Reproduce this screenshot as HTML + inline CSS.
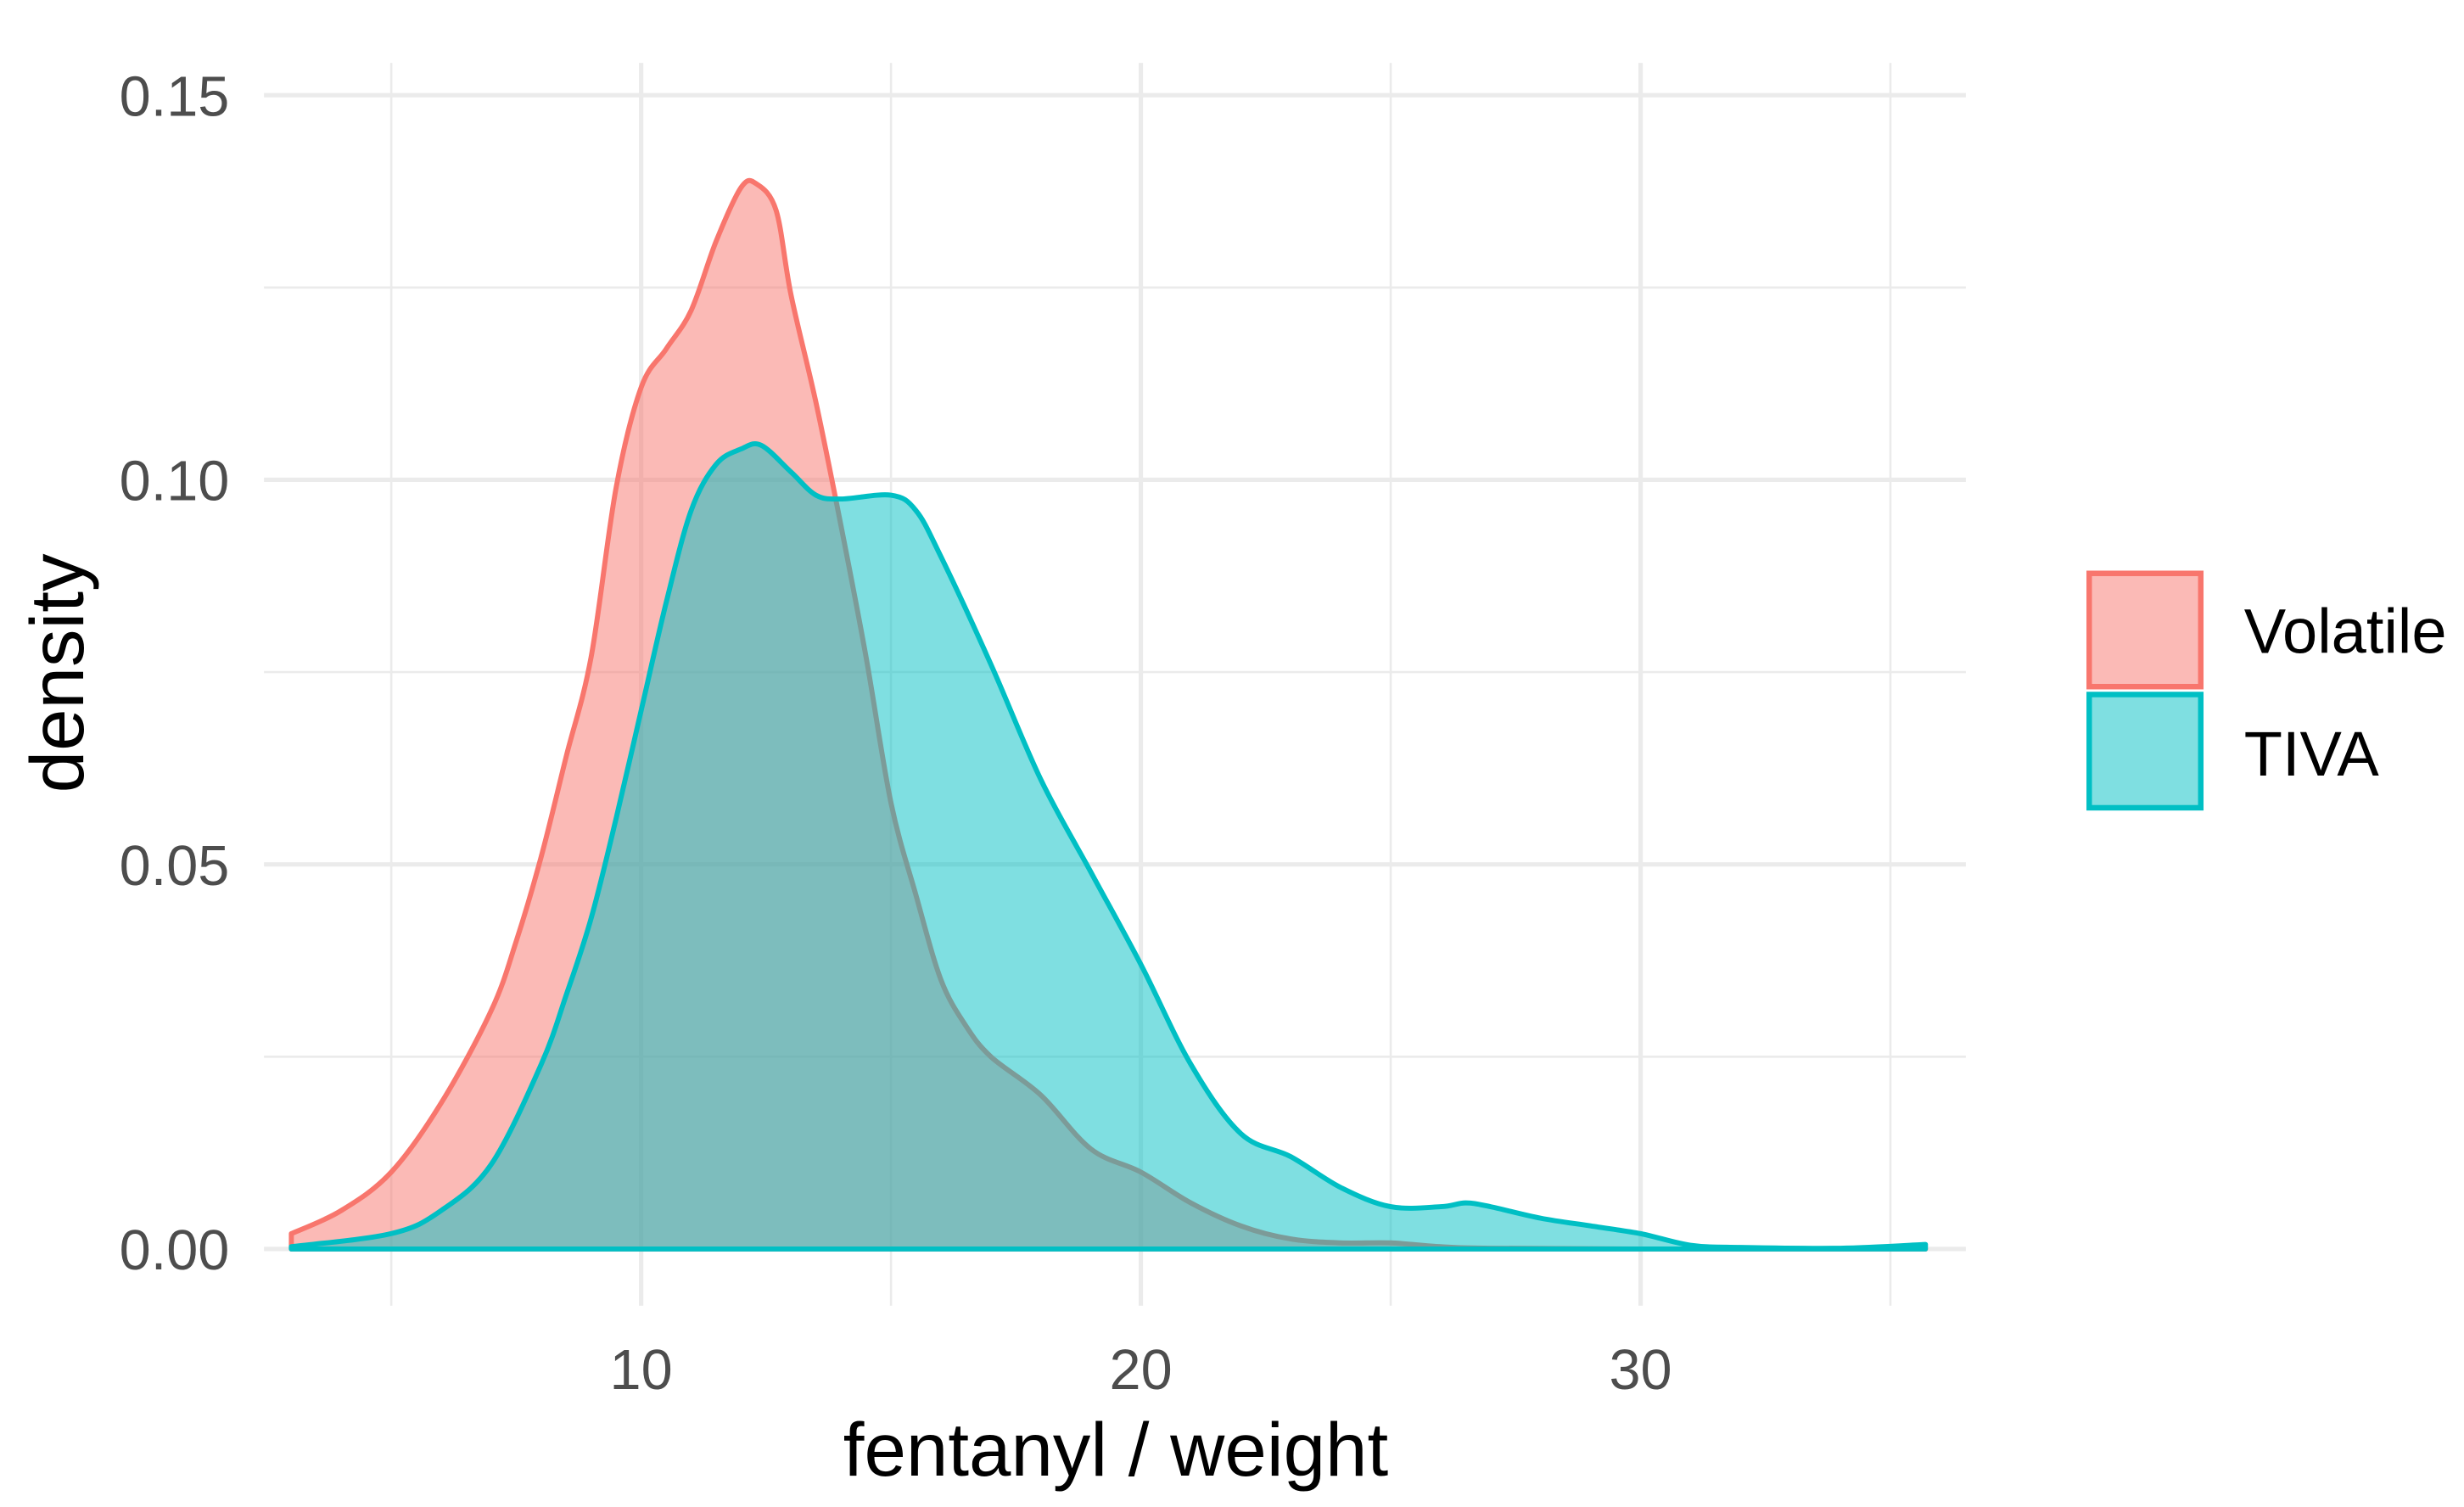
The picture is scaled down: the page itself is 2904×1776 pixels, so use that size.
<!DOCTYPE html>
<html><head><meta charset="utf-8"><style>
html,body{margin:0;padding:0;background:#fff;}
svg{display:block;font-family:"Liberation Sans",sans-serif;}
</style></head><body>
<svg id="chart" width="2904" height="1776" viewBox="0 0 1568 958" preserveAspectRatio="none" xmlns="http://www.w3.org/2000/svg">
<g id="grid"></g>
<g id="series"></g>
<g id="axes"></g>
<text x="710" y="938" font-size="48" text-anchor="middle" fill="#000">fentanyl / weight</text>
<text transform="translate(53,428) rotate(-90)" font-size="48" text-anchor="middle" fill="#000">density</text>
<g>
<rect x="1329.5" y="364.5" width="71" height="72" fill="#F8766D" fill-opacity="0.5" stroke="#F8766D" stroke-width="3.5"/>
<text x="1428" y="415" font-size="40" fill="#000">Volatile</text>
<rect x="1329.5" y="441.5" width="71" height="72" fill="#00BFC4" fill-opacity="0.5" stroke="#00BFC4" stroke-width="3.5"/>
<text x="1428" y="493" font-size="40" fill="#000">TIVA</text>
</g>
</svg>
<script>
const volX=[3.0,4,5,6,7,7.5,8,8.5,9,9.5,10,10.5,11,11.5,12,12.3,12.7,13,13.5,14,14.5,15,15.5,16,16.5,17,18,19,20,21,22,23,24,25,26,27,30,35.7];
const volY=[0.002,0.005,0.010,0.019,0.031,0.040,0.051,0.064,0.077,0.099,0.112,0.117,0.122,0.131,0.138,0.1385,0.135,0.124,0.110,0.094,0.077,0.058,0.046,0.035,0.029,0.025,0.020,0.013,0.010,0.006,0.003,0.0013,0.0008,0.0008,0.0003,0.0001,0,0];
const tivX=[3.0,5,6,7,8,8.5,9,9.5,10,10.5,11,11.5,12,12.4,13,13.5,14,15,15.5,16,17,18,19,20,21,22,23,24,25,26,26.5,27,28,29,30,31,32,34,35.7];
const tivY=[0.0003,0.002,0.005,0.011,0.024,0.033,0.043,0.056,0.070,0.084,0.096,0.102,0.104,0.1045,0.101,0.098,0.0975,0.098,0.096,0.090,0.076,0.061,0.049,0.037,0.024,0.015,0.012,0.008,0.0055,0.0055,0.006,0.0055,0.004,0.003,0.002,0.0005,0.0002,0.0001,0.0006];
const xMajor=[10,20,30], xMinor=[5,15,25,35];
const yMajor=[0,0.05,0.10,0.15], yMinor=[0.025,0.075,0.125];
const xTickLabels=["10","20","30"], yTickLabels=["0.00","0.05","0.10","0.15"];
const NS="http://www.w3.org/2000/svg";
const X0=168,X1=1251;
function sx(v){return 408+(v-10)*31.8;}
function sy(v){return 794-v*4890;}
function mk(t,a,p){const e=document.createElementNS(NS,t);for(const k in a)e.setAttribute(k,a[k]);p.appendChild(e);return e;}
const grid=document.getElementById('grid');
yMinor.forEach(v=>{const l=mk('line',{x1:X0,x2:X1,y1:sy(v),y2:sy(v),stroke:'#EBEBEB','stroke-width':1.4},grid);

});
xMinor.forEach(v=>{const l=mk('line',{x1:sx(v),x2:sx(v),y1:40,y2:830,stroke:'#EBEBEB','stroke-width':1.4},grid);

});
yMajor.forEach(v=>{const l=mk('line',{x1:X0,x2:X1,y1:sy(v),y2:sy(v),stroke:'#EBEBEB','stroke-width':2.8},grid);

});
xMajor.forEach(v=>{const l=mk('line',{x1:sx(v),x2:sx(v),y1:40,y2:830,stroke:'#EBEBEB','stroke-width':2.8},grid);

});
const ser=document.getElementById('series');
function smooth(pts){
 let d='';
 for(let i=0;i<pts.length-1;i++){
  const p0=pts[Math.max(i-1,0)],p1=pts[i],p2=pts[i+1],p3=pts[Math.min(i+2,pts.length-1)];
  const c1x=p1[0]+(p2[0]-p0[0])/6,c1y=p1[1]+(p2[1]-p0[1])/6;
  const c2x=p2[0]-(p3[0]-p1[0])/6,c2y=p2[1]-(p3[1]-p1[1])/6;
  d+=' C'+c1x.toFixed(1)+','+c1y.toFixed(1)+' '+c2x.toFixed(1)+','+c2y.toFixed(1)+' '+p2[0].toFixed(1)+','+p2[1].toFixed(1);
 }
 return d;
}
function area(xs,ys,col,name){
 const pts=xs.map((x,i)=>[sx(x),sy(ys[i])]);
 const curve='M'+pts[0][0]+','+pts[0][1]+smooth(pts);
 const fd=curve+' L'+pts[pts.length-1][0]+','+sy(0)+' L'+pts[0][0]+','+sy(0)+' Z';
 const f=mk('path',{d:fd,fill:col,'fill-opacity':0.5,stroke:'none'},ser);
 
 
 const p=mk('path',{d:fd,fill:'none',stroke:col,'stroke-width':3.2,'stroke-linejoin':'round'},ser);
 
 
}
area(volX,volY,'#F8766D','density-volatile');
area(tivX,tivY,'#00BFC4','density-tiva');
const ax=document.getElementById('axes');
xMajor.forEach((v,i)=>{const t=mk('text',{x:sx(v),y:883,'font-size':36,'text-anchor':'middle',fill:'#4D4D4D'},ax);t.textContent=xTickLabels[i];

});
yMajor.forEach((v,i)=>{const t=mk('text',{x:146,y:sy(v)+13,'font-size':36,'text-anchor':'end',fill:'#4D4D4D'},ax);t.textContent=yTickLabels[i];

});
</script>
</body></html>
